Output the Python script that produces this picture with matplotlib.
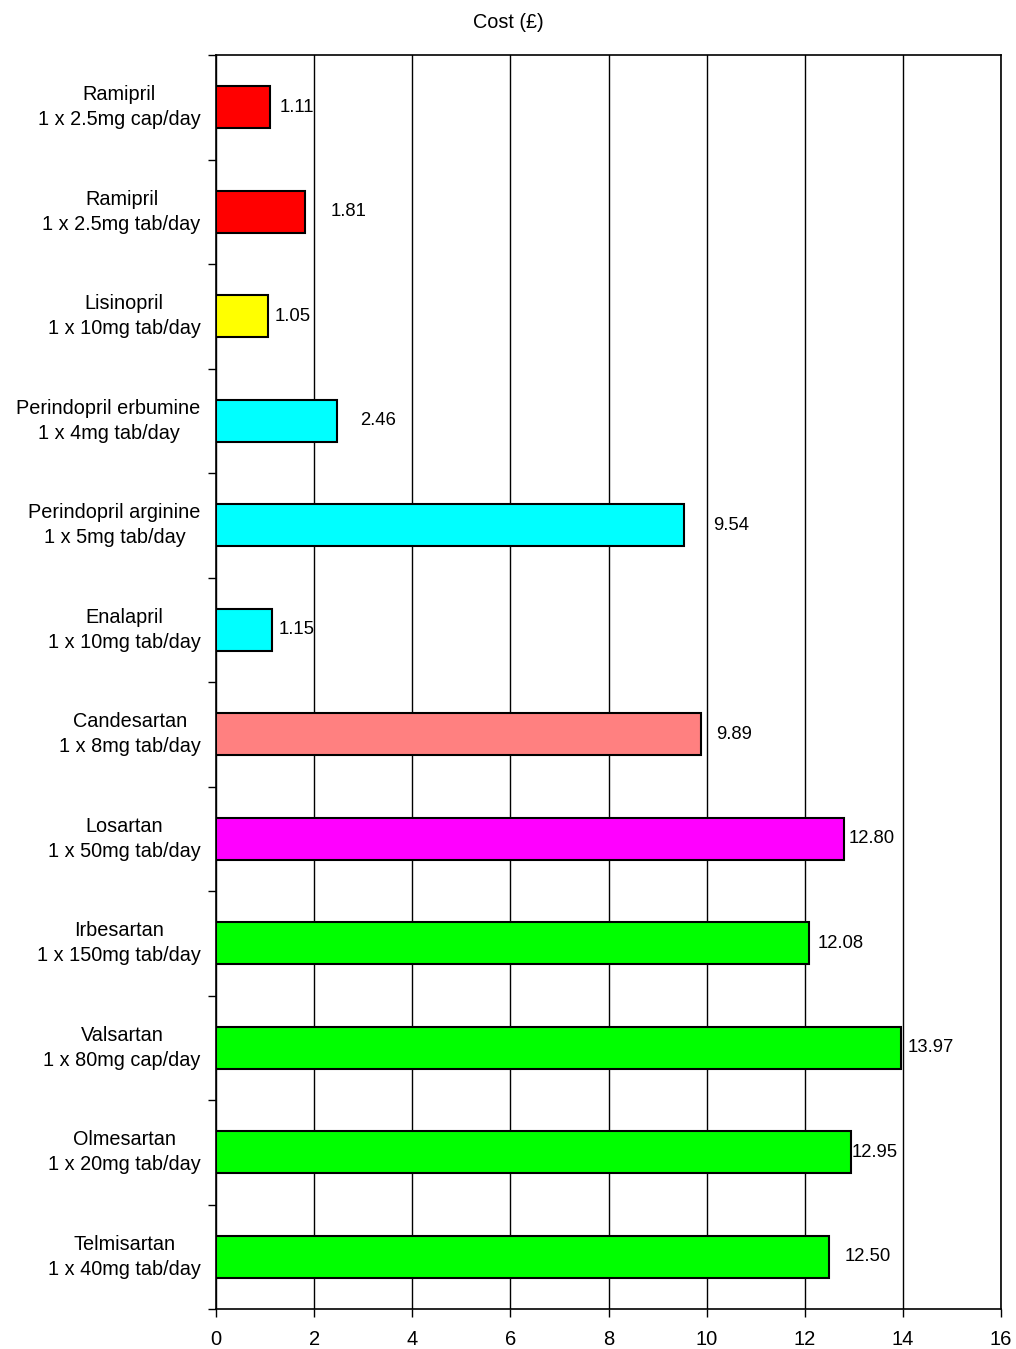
import numpy as np
import matplotlib.pyplot as plt
from matplotlib.ticker import FixedLocator

plt.rcParams['font.family'] = ['Liberation Sans', 'DejaVu Sans']

# drug / dose labels, top to bottom
drugs = ['Ramipril\n1 x 2.5mg cap/day', 'Ramipril\n1 x 2.5mg tab/day',
         'Lisinopril\n1 x 10mg tab/day', 'Perindopril erbumine\n1 x 4mg tab/day',
         'Perindopril arginine\n1 x 5mg tab/day', 'Enalapril\n1 x 10mg tab/day',
         'Candesartan\n1 x 8mg tab/day', 'Losartan\n1 x 50mg tab/day',
         'Irbesartan\n1 x 150mg tab/day', 'Valsartan\n1 x 80mg cap/day',
         'Olmesartan\n1 x 20mg tab/day', 'Telmisartan\n1 x 40mg tab/day']
cost = [1.11, 1.81, 1.05, 2.46, 9.54, 1.15, 9.89, 12.80, 12.08, 13.97, 12.95, 12.50]
colors = ['#FF0000', '#FF0000', '#FFFF00', '#00FFFF', '#00FFFF', '#00FFFF',
          '#FF8080', '#FF00FF', '#00FF00', '#00FF00', '#00FF00', '#00FF00']
x_ticks = [0, 2, 4, 6, 8, 10, 12, 14, 16]

# label offsets from bar end (pixels), as placed in the original
lab_off = [26, 44, 25, 41, 47, 24, 33, 28, 32, 29, 23, 38]

fig = plt.figure(figsize=(10.16, 13.49), dpi=100)
ax = fig.add_axes([216 / 1016, 1 - 1309 / 1349, (1001 - 216) / 1016, (1309 - 55) / 1349])

y = np.arange(len(drugs))
ax.barh(y, cost, height=0.4, color=colors, edgecolor='black', linewidth=1.5, zorder=3)

for yi, v, off in zip(y, cost, lab_off):
    ax.annotate('%.2f' % v, (v, yi), xytext=(off * 0.72, 0), textcoords='offset points',
                ha='center', va='center', fontsize=13.3, zorder=4)

ax.set_xlim(0, 16)
ax.set_ylim(len(drugs) - 0.5, -0.5)
ax.set_xticks(x_ticks)
ax.set_xticklabels([str(t) for t in x_ticks], fontsize=14.5)
ax.xaxis.grid(True, color='black', linewidth=1, zorder=0)

ax.set_yticks(y)
ax.set_yticklabels(drugs, fontsize=14.3, multialignment='center', linespacing=1.42, va='center')
ax.tick_params(axis='y', which='major', length=0, pad=11)
ax.yaxis.set_minor_locator(FixedLocator(np.arange(-0.5, len(drugs), 1)))
ax.tick_params(axis='y', which='minor', length=6, width=1, direction='out')
ax.tick_params(axis='x', length=6, width=1, direction='out', pad=9)

for s in ax.spines.values():
    s.set_linewidth(1.2)
    s.set_color('black')

fig.text(0.5, 1 - 22 / 1349, 'Cost (£)', ha='center', va='center', fontsize=14.3)

fig.savefig('out.png', dpi=100)
